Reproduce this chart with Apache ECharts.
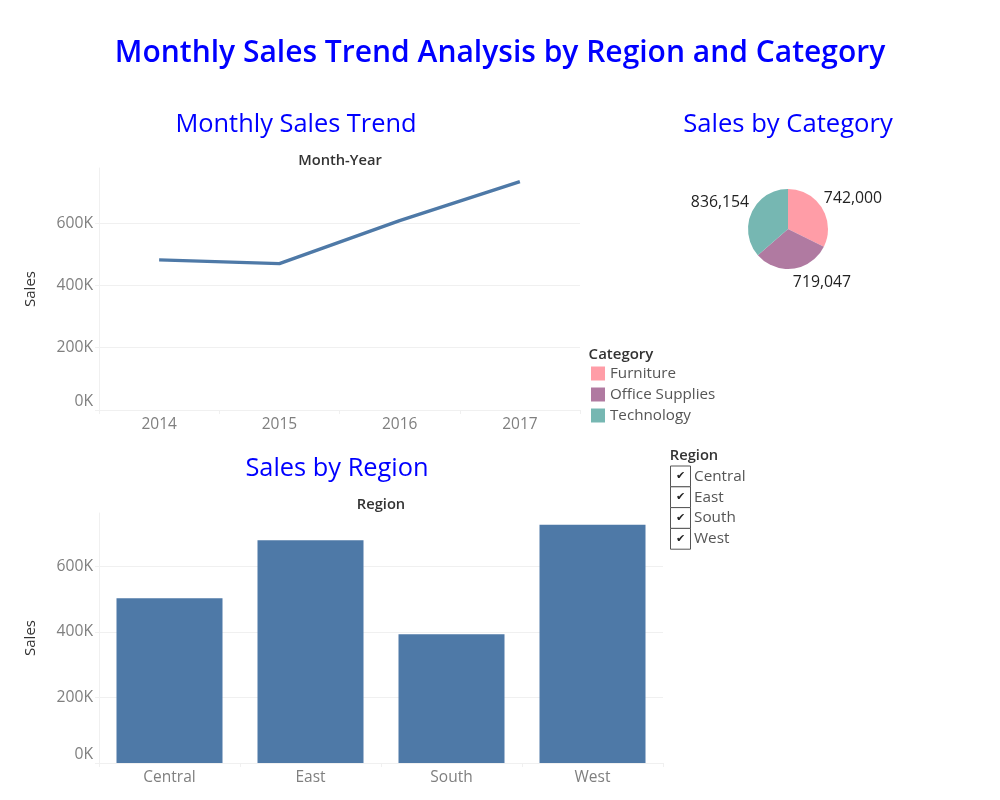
<!DOCTYPE html>
<html><head><meta charset="utf-8">
<style>html,body{margin:0;padding:0;background:#fff}#c{width:1000px;height:800px}</style>
<script src="https://cdn.jsdelivr.net/npm/echarts@6/dist/echarts.min.js"></script>
</head><body><div id="c"></div>
<script>
const years = ['2014','2015','2016','2017'];
const yearSales = [482000,470000,608000,733000];
const regions = ['Central','East','South','West'];
const regionSales = [503000,680000,393000,727000];
const categories = ['Furniture','Office Supplies','Technology'];
const categorySales = [742000,719047,836154];
const categoryColors = ['#ff9da7','#b07aa1','#76b7b2'];
const FONT = '"Open Sans","Noto Sans",sans-serif';
const BLUE = '#0000ff', GRID = '#f0f0f0', TICK = '#7f7f7f', INK = '#333333';

const chart = echarts.init(document.getElementById('c'), null, {renderer:'canvas'});
const titleAt = (text, cx, cy, size, weight, color) => ({
  text, left: cx, top: cy, textAlign:'center', textVerticalAlign:'middle', padding:0,
  textStyle:{fontFamily:FONT, fontSize:size, fontWeight:weight, color}
});
const yAxis = (grid, max) => ({
  type:'value', gridIndex:grid, min:0, max, interval:200000,
  name:'Sales', nameLocation:'middle', nameGap:61, nameRotate:90,
  nameTextStyle:{fontFamily:FONT, fontSize:15, color:INK},
  axisLine:{show:true, lineStyle:{color:GRID}},
  axisTick:{show:true, length:4, lineStyle:{color:GRID}},
  axisLabel:{fontFamily:FONT, fontSize:15.7, lineHeight:17, color:TICK, margin:6, verticalAlignMinLabel:'bottom', showMaxLabel:false,
    formatter:v => (v/1000)+'K'},
  splitLine:{show:true, showMaxLine:false, showMinLine:false, lineStyle:{color:GRID, width:1}}
});
const xAxis = (grid, data) => ({
  type:'category', gridIndex:grid, data,
  axisLine:{show:true, lineStyle:{color:GRID}},
  axisTick:{show:true, length:4, alignWithLabel:false, lineStyle:{color:GRID}},
  axisLabel:{fontFamily:FONT, fontSize:15.5, color:TICK, margin:7},
  splitLine:{show:false}
});
const checks = [];
regions.forEach((r,i)=>{
  const y = 466 + i*20.8;
  checks.push({type:'rect', shape:{x:670.5,y:y,width:20,height:20.8}, style:{fill:'#fff',stroke:'#555',lineWidth:1}});
  checks.push({type:'text', x:680.5, y:y+10.5, style:{text:'\u2714', fontSize:11, fill:'#222', align:'center', verticalAlign:'middle', fontFamily:'"DejaVu Sans"'}});
  checks.push({type:'text', x:694, y:y+10.5, style:{text:r, fontFamily:FONT, fontSize:15.3, fill:'#555', align:'left', verticalAlign:'middle'}});
});
const labelSpots = [[853,198],[822,282],[720,202]];
chart.setOption({
  animation:false,
  backgroundColor:'#fff',
  title:[
    titleAt('Monthly Sales Trend Analysis by Region and Category',500,53,30,600,BLUE),
    titleAt('Monthly Sales Trend',296,125,25.4,400,BLUE),
    titleAt('Sales by Category',788,125,25.6,400,BLUE),
    titleAt('Sales by Region',337,469,25.4,400,BLUE),
    titleAt('Month-Year',340,161,14.7,600,INK),
    titleAt('Region',381,505,14.7,600,INK),
    titleAt('Category',621,355,15,600,INK),
    titleAt('Region',694,456,14.7,600,INK)
  ],
  grid:[
    {left:99, top:168, width:481, height:242},
    {left:99, top:513, width:564, height:250}
  ],
  xAxis:[xAxis(0,years), xAxis(1,regions)],
  yAxis:[yAxis(0,777000), yAxis(1,763000)],
  legend:{
    data:categories, orient:'vertical', left:591, top:366, itemWidth:14, itemHeight:14, itemGap:6,
    icon:'rect', selectedMode:false, padding:0,
    textStyle:{fontFamily:FONT, fontSize:15.2, lineHeight:14, color:'#555', padding:[0,0,0,0]}
  },
  series:[
    {type:'line', xAxisIndex:0, yAxisIndex:0, data:yearSales, symbol:'none',
      lineStyle:{color:'#4e79a7', width:3.4}, itemStyle:{color:'#4e79a7'}},
    {type:'bar', xAxisIndex:1, yAxisIndex:1, data:regionSales, barWidth:106, itemStyle:{color:'#4e79a7'}},
    {type:'pie', center:[788,229], radius:[0,40], startAngle:90, clockwise:true, silent:true,
      data:categories.map((n,i)=>({name:n, value:categorySales[i], itemStyle:{color:categoryColors[i]}})),
      label:{show:true, position:'outside', fontFamily:FONT, fontSize:15.8, color:'#222',
        formatter:p=>p.value.toLocaleString('en-US')},
      labelLine:{show:false},
      labelLayout:p=>({x:labelSpots[p.dataIndex][0], y:labelSpots[p.dataIndex][1], align:'center', verticalAlign:'middle'})
    }
  ],
  graphic:checks
});
</script></body></html>
